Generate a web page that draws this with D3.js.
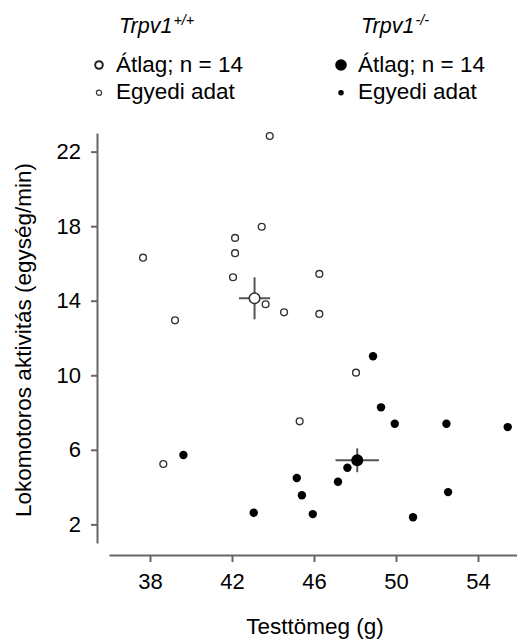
<!DOCTYPE html>
<html>
<head>
<meta charset="utf-8">
<script src="https://cdn.jsdelivr.net/npm/d3@7"></script>
<style>
  body { margin: 0; background: #fff; }
  text { font-family: "Liberation Sans", Arial, sans-serif; fill: #000; }
</style>
</head>
<body>
<svg id="chart"></svg>
<script>
'use strict';

// Trpv1+/+ individual data (body mass g, activity units/min)
var wtX = [43.84, 43.45, 42.15, 42.15, 37.66, 42.05, 43.64, 44.54, 39.22, 46.26, 46.26, 48.05, 45.30, 38.65];
var wtY = [22.84, 17.97, 17.37, 16.55, 16.31, 15.26, 13.81, 13.38, 12.95, 15.44, 13.29, 10.14, 7.53, 5.24];
// Trpv1-/- individual data
var koX = [48.88, 49.27, 49.94, 52.46, 55.45, 47.63, 45.16, 47.17, 45.41, 52.54, 45.94, 50.83, 39.63, 43.06];
var koY = [11.02, 8.28, 7.40, 7.40, 7.22, 5.04, 4.49, 4.29, 3.56, 3.73, 2.55, 2.38, 5.72, 2.62];
// means with SEM: [x, y, xErr, yErr]
var wtMean = [43.1, 14.13, 0.76, 1.13];
var koMean = [48.11, 5.44, 1.06, 0.64];

var xTicks = [38, 42, 46, 50, 54];
var yTicks = [2, 6, 10, 14, 18, 22];

const WIDTH = 517;
const HEIGHT = 639;
const AXIS_COLOR = "#666";

var svg = d3.select("#chart")
    .attr("width", WIDTH)
    .attr("height", HEIGHT);

var x = d3.scaleLinear().domain([36, 56]).range([109, 519]);
var y = d3.scaleLinear().domain([1, 23]).range([543, 133]);

// axes
var xAxis = svg.append("g")
    .attr("transform", "translate(0,555)")
    .call(d3.axisBottom(x).tickValues(xTicks).tickSize(7).tickSizeOuter(0).tickPadding(11));
var yAxis = svg.append("g")
    .attr("transform", "translate(97,0)")
    .call(d3.axisLeft(y).tickValues(yTicks).tickSize(6).tickSizeOuter(0).tickPadding(10));

[xAxis, yAxis].forEach(function (g) {
    g.select(".domain").attr("stroke", AXIS_COLOR).attr("stroke-width", 2);
    g.selectAll(".tick line").attr("stroke", AXIS_COLOR).attr("stroke-width", 2);
    g.selectAll(".tick text")
        .attr("fill", "#000")
        .style("font-size", "22px")
        .style("font-family", "'Liberation Sans', Arial, sans-serif");
});

svg.append("text")
    .attr("x", 315)
    .attr("y", 634)
    .attr("text-anchor", "middle")
    .style("font-size", "22.5px")
    .text("Testtömeg (g)");

svg.append("text")
    .attr("transform", "translate(31,340) rotate(-90)")
    .attr("text-anchor", "middle")
    .style("font-size", "22.5px")
    .text("Lokomotoros aktivitás (egység/min)");

// error bars for means
function errorBars(m) {
    var g = svg.append("g")
        .attr("stroke", "#555")
        .attr("stroke-width", 2);
    g.append("line")
        .attr("x1", x(m[0] - m[2])).attr("x2", x(m[0] + m[2]))
        .attr("y1", y(m[1])).attr("y2", y(m[1]));
    g.append("line")
        .attr("x1", x(m[0])).attr("x2", x(m[0]))
        .attr("y1", y(m[1] - m[3])).attr("y2", y(m[1] + m[3]));
}
errorBars(wtMean);
errorBars(koMean);

// individual points
svg.selectAll(".wt")
    .data(d3.range(wtX.length))
    .enter()
    .append("circle")
    .attr("class", "wt")
    .attr("cx", function (i) { return x(wtX[i]); })
    .attr("cy", function (i) { return y(wtY[i]); })
    .attr("r", 3.4)
    .attr("fill", "#fff")
    .attr("stroke", "#333")
    .attr("stroke-width", 1.4);

svg.selectAll(".ko")
    .data(d3.range(koX.length))
    .enter()
    .append("circle")
    .attr("class", "ko")
    .attr("cx", function (i) { return x(koX[i]); })
    .attr("cy", function (i) { return y(koY[i]); })
    .attr("r", 4.2)
    .attr("fill", "#000");

// means
svg.append("circle")
    .attr("cx", x(wtMean[0]))
    .attr("cy", y(wtMean[1]))
    .attr("r", 5.3)
    .attr("fill", "#fff")
    .attr("stroke", "#333")
    .attr("stroke-width", 1.6);
svg.append("circle")
    .attr("cx", x(koMean[0]))
    .attr("cy", y(koMean[1]))
    .attr("r", 6)
    .attr("fill", "#000");

// legend
function legendGroup(lx, sup, filled) {
    var g = svg.append("g").attr("transform", "translate(" + lx + ",0)");
    var title = g.append("text")
        .attr("x", 20)
        .attr("y", 33)
        .style("font-size", "21.5px")
        .style("font-style", "italic");
    title.append("tspan").text("Trpv1");
    title.append("tspan")
        .attr("dy", -8)
        .attr("dx", 1)
        .style("font-size", "14.5px")
        .text(sup);

    if (filled) {
        g.append("circle").attr("cx", 0).attr("cy", 65).attr("r", 5.8).attr("fill", "#000");
        g.append("circle").attr("cx", 0).attr("cy", 92.7).attr("r", 2.8).attr("fill", "#000");
    } else {
        g.append("circle").attr("cx", 0).attr("cy", 65).attr("r", 3.8)
            .attr("fill", "#fff").attr("stroke", "#222").attr("stroke-width", 2);
        g.append("circle").attr("cx", 0).attr("cy", 92.7).attr("r", 2.6)
            .attr("fill", "#fff").attr("stroke", "#333").attr("stroke-width", 1.2);
    }
    g.append("text").attr("x", 17).attr("y", 72).style("font-size", "22.5px").text("Átlag; n = 14");
    g.append("text").attr("x", 17).attr("y", 99).style("font-size", "22.5px").text("Egyedi adat");
}
legendGroup(99, "+/+", false);
legendGroup(341, "-/-", true);
</script>
</body>
</html>
